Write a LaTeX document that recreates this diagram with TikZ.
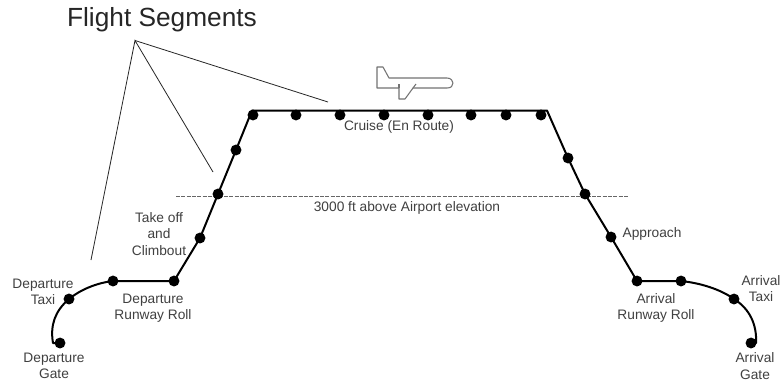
\documentclass[tikz,border=0pt]{standalone}
\usepackage{fontspec}
\setmainfont{Liberation Sans}
\definecolor{txt}{gray}{0.25}
\tikzset{
  pt/.style={circle,fill=black,inner sep=0pt,minimum size=8.2pt},
  lbl/.style={font=\fontsize{10.3}{12.2}\selectfont,text=txt,align=center,inner sep=0pt},
  route/.style={line width=1.5pt,black,line join=round},
  pointer/.style={line width=0.6pt,black!85}
}
\begin{document}
\begin{tikzpicture}[x=0.75pt,y=-0.75pt]
\useasboundingbox (0,0) rectangle (781,383);
\fill[white] (0,0) rectangle (781,383);
% dashed reference line
\coordinate (dl) at (176,196);
\coordinate (dr) at (628,196);
\draw[black!60,line width=0.6pt,dash pattern=on 3pt off 1pt] (dl) -- (dr);
% waypoints
\foreach \n/\x/\y in {a/60/343,b/69/299,c/113/281,d/174/281,e/200/238,f/218/194,g/236/150,h/253/115,
  i/296/115,j/340/115,k/384/115,l/428/115,m/471/115,n/506/115,o/541/115,p/568/158,q/585/194,r/611/237,
  s/637/281,t/681/281,u/734/299,v/751/343}
  \node[pt] (\n) at (\x,\y) {};
\coordinate (topl) at (252,110.5);
\coordinate (topr) at (547,110.5);
% route
\draw[route] (a.center) -- (53,343) .. controls (50,325) and (55,311) .. (b.center)
  .. controls (80,290) and (96,283) .. (c.center) -- (d.center) -- (e.center) -- (f.center) -- (g.center)
  -- (topl) -- (topr) -- (p.center) -- (q.center) -- (r.center) -- (s.center) -- (t.center)
  .. controls (700,283) and (720,289) .. (u.center)
  .. controls (750,309) and (757,325) .. (756,343) -- (v.center);
% title and pointers
\node[font=\fontsize{19.7}{24}\selectfont,text=black!85,inner sep=0pt] (title) at (162,20) {Flight Segments};
\coordinate (hub) at (135,40.5);
\coordinate (p1) at (91,260);
\coordinate (p2) at (213,172);
\coordinate (p3) at (328,102);
\draw[pointer] (p1) -- (hub) -- (p2);
\draw[pointer] (hub) -- (p3);
% labels
\node[lbl] (l1) at (399,127) {Cruise (En Route)};
\node[lbl] (l2) at (407,208) {3000 ft above Airport elevation};
\node[lbl] (l3) at (159,234) {Take off\\and\\Climbout};
\node[lbl] (l4) at (43,292) {Departure\\Taxi};
\node[lbl] (l5) at (153,308) {Departure\\Runway Roll};
\node[lbl] (l6) at (54,366) {Departure\\Gate};
\node[lbl] (l7) at (652,234) {Approach};
\node[lbl] (l8) at (656,308) {Arrival\\Runway Roll};
\node[lbl] (l9) at (761,288.5) {Arrival\\Taxi};
\node[lbl] (l10) at (755,366) {Arrival\\Gate};
% aeroplane
\draw[black!55,line width=0.8pt,line join=round]
  (377,67) -- (383,67) -- (389,78) -- (447,78)
  .. controls (451,78) and (453,81) .. (453,83)
  .. controls (453,86) and (451,88) .. (447,88)
  -- (413,88) -- (405,99) -- (399,99) -- (399,88) -- (377,88) -- cycle;
\draw[black!55,line width=0.8pt] (399,84) -- (399,88);
\draw[black!55,line width=0.8pt] (416,84) -- (413,88);
\end{tikzpicture}
\end{document}
